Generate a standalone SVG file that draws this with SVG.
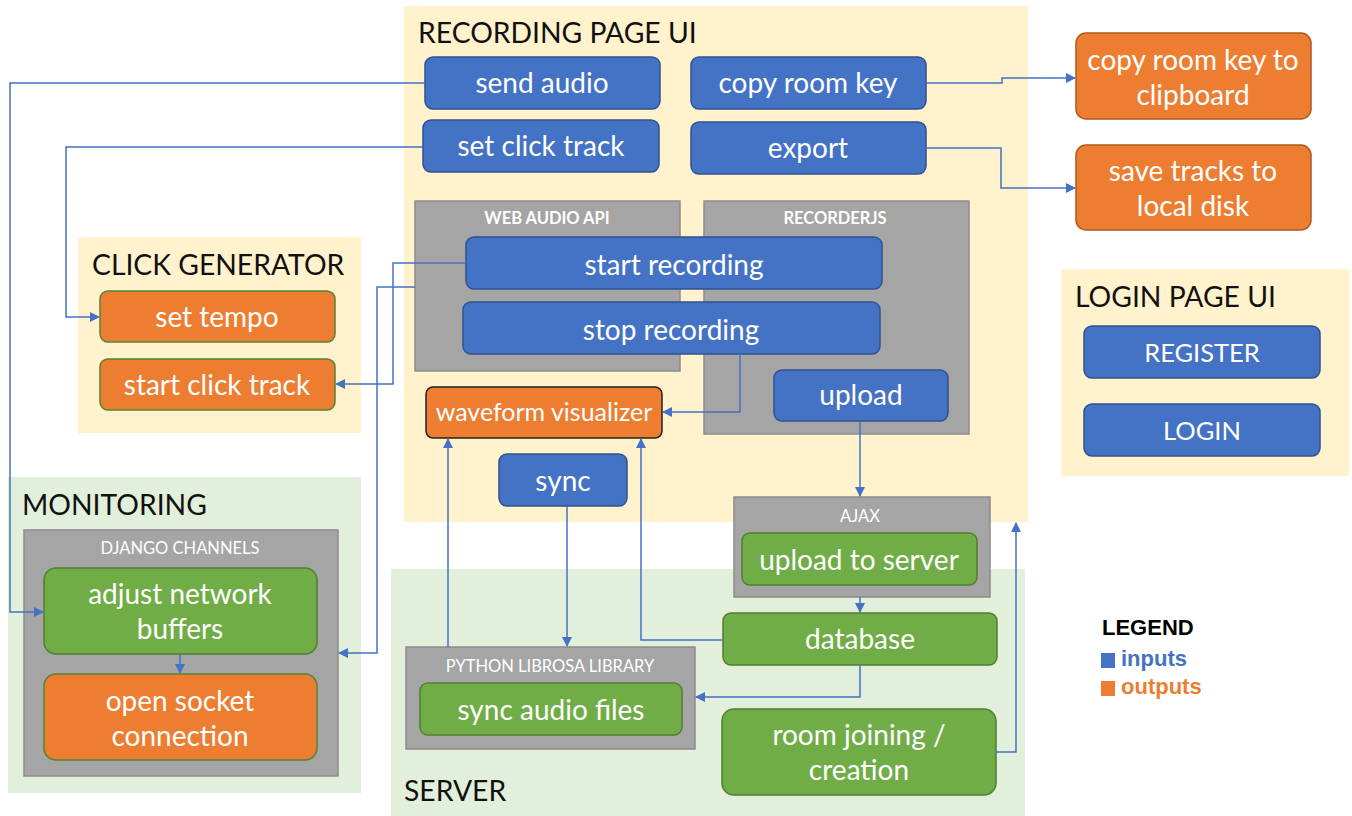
<svg xmlns="http://www.w3.org/2000/svg" width="1352" height="816" viewBox="0 0 1352 816">
<defs>
<marker id="ah" markerWidth="10" markerHeight="10" refX="9" refY="5" orient="auto" markerUnits="userSpaceOnUse">
<path d="M0,0 L10,5 L0,10 z" fill="#4472C4"/>
</marker>
<style>
.pY{fill:#FFF2CC}
.pG{fill:#E2EFDA}
.gr{fill:#A5A5A5;stroke:#8C8C8C;stroke-width:1.5}
.bl{fill:#4472C4;stroke:#2F528F;stroke-width:1.5}
.or{fill:#ED7D31;stroke:#AE5A21;stroke-width:1.5}
.orG{fill:#ED7D31;stroke:#548235;stroke-width:1.5}
.orK{fill:#ED7D31;stroke:#222;stroke-width:1.5}
.gn{fill:#70AD47;stroke:#507E32;stroke-width:1.5}
.t{font-family:Lato,"Open Sans",sans-serif;font-size:28px;fill:#fff;text-anchor:middle}
.tc{font-size:25.5px}
.tw{font-family:Lato,"Open Sans",sans-serif;font-size:25px;fill:#fff;text-anchor:middle}
.h{font-family:Lato,"Open Sans",sans-serif;font-size:28.3px;fill:#111}
.s{font-family:Lato,"Open Sans",sans-serif;font-size:16.5px;font-weight:bold;fill:#fff;text-anchor:middle}
.sn{font-weight:normal}
.c{fill:none;stroke:#4472C4;stroke-width:1.5;marker-end:url(#ah)}
.lg{font-family:"Liberation Sans",Arial,sans-serif;font-size:22px;font-weight:bold}
</style>
</defs>
<rect width="1352" height="816" fill="#fff"/>

<g id="panels">
<rect class="pY" x="404" y="6" width="624" height="516"/>
<rect class="pY" x="78" y="237" width="283" height="196"/>
<rect class="pY" x="1061" y="269" width="288" height="207"/>
<rect class="pG" x="8" y="477" width="353" height="316"/>
<rect class="pG" x="391" y="569" width="634" height="247"/>
<text class="h" x="418" y="43">RECORDING PAGE UI</text>
<text class="h" x="92" y="275">CLICK GENERATOR</text>
<text class="h" x="1075" y="307">LOGIN PAGE UI</text>
<text class="h" x="22" y="515">MONITORING</text>
<text class="h" x="404" y="801">SERVER</text>
</g>

<g id="containers">
<rect class="gr" x="415" y="201" width="265" height="170"/>
<text class="s" x="547" y="224">WEB AUDIO API</text>
<rect class="gr" x="704" y="201" width="265" height="233"/>
<text class="s" x="835" y="224">RECORDERJS</text>
<rect class="gr" x="734" y="497" width="256" height="100"/>
<text class="s sn" x="860" y="522">AJAX</text>
<rect class="gr" x="24" y="530" width="314" height="246"/>
<text class="s sn" x="180" y="554">DJANGO CHANNELS</text>
<rect class="gr" x="406" y="647" width="289" height="102"/>
<text class="s sn" x="550" y="672">PYTHON LIBROSA LIBRARY</text>
</g>

<g id="send-audio"><rect class="bl" x="425" y="57" width="235" height="52" rx="8"/><text class="t" x="542" y="93">send audio</text></g>
<g id="set-click-track"><rect class="bl" x="423" y="120" width="236" height="52" rx="8"/><text class="t" x="541" y="156">set click track</text></g>
<g id="copy-room-key"><rect class="bl" x="691" y="57" width="235" height="52" rx="8"/><text class="t" x="808" y="93">copy room key</text></g>
<g id="export"><rect class="bl" x="691" y="122" width="235" height="52" rx="8"/><text class="t" x="808" y="158">export</text></g>
<g id="start-recording"><rect class="bl" x="466" y="237" width="416" height="52" rx="8"/><text class="t" x="674" y="275">start recording</text></g>
<g id="stop-recording"><rect class="bl" x="463" y="302" width="417" height="52" rx="8"/><text class="t" x="671" y="340">stop recording</text></g>
<g id="upload"><rect class="bl" x="774" y="370" width="174" height="51" rx="8"/><text class="t" x="861" y="405">upload</text></g>
<g id="sync"><rect class="bl" x="499" y="454" width="128" height="52" rx="8"/><text class="t" x="563" y="491">sync</text></g>
<g id="register"><rect class="bl" x="1084" y="326" width="236" height="52" rx="8"/><text class="t tc" x="1202" y="362">REGISTER</text></g>
<g id="login"><rect class="bl" x="1084" y="404" width="236" height="52" rx="8"/><text class="t tc" x="1202" y="440">LOGIN</text></g>

<g id="copy-room-key-to-clipboard"><rect class="or" x="1076" y="33" width="235" height="86" rx="10"/><text class="t" x="1193" y="70">copy room key to</text><text class="t" x="1193" y="105">clipboard</text></g>
<g id="save-tracks"><rect class="or" x="1076" y="145" width="235" height="85" rx="10"/><text class="t" x="1193" y="181">save tracks to</text><text class="t" x="1193" y="216">local disk</text></g>
<g id="set-tempo"><rect class="orG" x="100" y="291" width="235" height="51" rx="8"/><text class="t" x="217" y="327">set tempo</text></g>
<g id="start-click-track"><rect class="orG" x="100" y="359" width="235" height="51" rx="8"/><text class="t" x="217" y="395">start click track</text></g>
<g id="waveform-visualizer"><rect class="orK" x="426" y="387" width="236" height="51" rx="7"/><text class="tw" x="544" y="421">waveform visualizer</text></g>
<g id="open-socket"><rect class="or" x="44" y="674" width="273" height="86" rx="12" style="stroke:#548235"/><text class="t" x="180" y="711">open socket</text><text class="t" x="180" y="746">connection</text></g>

<g id="adjust-network-buffers"><rect class="gn" x="44" y="568" width="273" height="86" rx="12"/><text class="t" x="180" y="604">adjust network</text><text class="t" x="180" y="639">buffers</text></g>
<g id="upload-to-server"><rect class="gn" x="742" y="533" width="235" height="52" rx="8"/><text class="t" x="859" y="570">upload to server</text></g>
<g id="database"><rect class="gn" x="723" y="613" width="274" height="52" rx="8"/><text class="t" x="860" y="649">database</text></g>
<g id="sync-audio-files"><rect class="gn" x="420" y="683" width="262" height="52" rx="8"/><text class="t" x="551" y="720">sync audio files</text></g>
<g id="room-joining"><rect class="gn" x="722" y="709" width="274" height="86" rx="12"/><text class="t" x="859" y="745">room joining /</text><text class="t" x="859" y="780">creation</text></g>

<g id="connectors">
<path class="c" d="M425,83 H10 V612 H43"/>
<path class="c" d="M423,147 H66 V317 H99"/>
<path class="c" d="M466,263 H393 V384 H336"/>
<path class="c" d="M415,287 H377 V653 H339"/>
<path class="c" d="M740,354 V412 H663"/>
<path class="c" d="M860,421 V496"/>
<path class="c" d="M860,597 V612"/>
<path class="c" d="M723,640 H641 V439"/>
<path class="c" d="M448,647 V439"/>
<path class="c" d="M567,506 V646"/>
<path class="c" d="M860,665 V697 H696"/>
<path class="c" d="M996,752 H1016 V523"/>
<path class="c" d="M926,83 H1002 V78 H1075"/>
<path class="c" d="M926,148 H1001 V188 H1075"/>
<path class="c" d="M180,654 V673"/>
</g>

<g id="legend">
<text class="lg" x="1102" y="635" fill="#000">LEGEND</text>
<rect x="1101" y="653" width="14" height="15" fill="#4472C4"/>
<text class="lg" x="1121" y="666" fill="#4472C4">inputs</text>
<rect x="1101" y="681" width="14" height="15" fill="#ED7D31"/>
<text class="lg" x="1121" y="694" fill="#ED7D31">outputs</text>
</g>
</svg>
